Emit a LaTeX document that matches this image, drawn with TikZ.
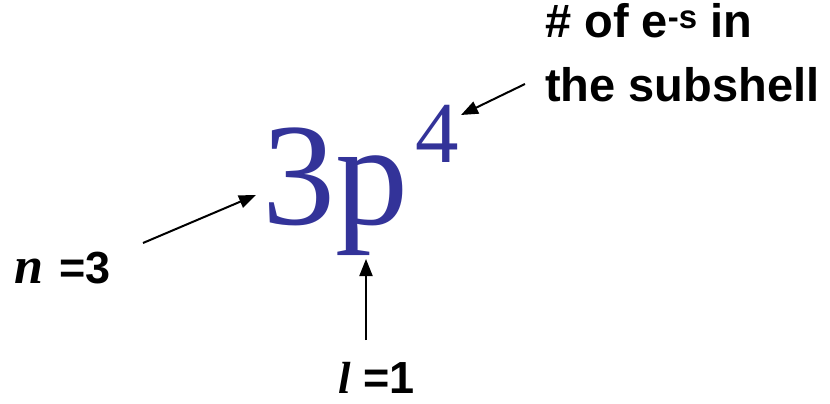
\documentclass[tikz,border=0pt]{standalone}
\usepackage{fontspec}
\setmainfont{Liberation Serif}
\newfontfamily\arialf{Liberation Sans}
\usetikzlibrary{arrows.meta}
\definecolor{symblue}{RGB}{51,51,153}
\begin{document}
\begin{tikzpicture}[x=1pt,y=-1pt,
  lbl/.style={inner sep=0pt,anchor=base west,font=\arialf\bfseries\fontsize{47}{54}\selectfont},
  qn/.style={inner sep=0pt,anchor=base west,font=\arialf\bfseries\fontsize{45}{50}\selectfont},
  arr/.style={line width=2pt,-{Triangle[length=17pt,width=13pt]}}]
\useasboundingbox (0,0) rectangle (830,404);
\node[inner sep=0pt,anchor=base west,text=symblue,font=\fontsize{146}{150}\selectfont] (sym) at (262,224) {3p};
\node[inner sep=0pt,anchor=base west,text=symblue,font=\fontsize{87}{90}\selectfont] (exp) at (415,162) {4};
\node[lbl] (l1) at (545,38) {\# of e\textsuperscript{-s} in};
\node[lbl] (l2) at (545,102) {the subshell};
\node[qn] (nq) at (14,283) {{\rmfamily\bfseries\itshape\fontsize{52}{52}\selectfont n}\hspace{4pt} =3};
\node[qn] (lq) at (338,393) {{\rmfamily\bfseries\itshape l} =1};
\coordinate (ntail) at (143,243);
\coordinate (nhead) at (256,195);
\coordinate (ltail) at (366,340);
\coordinate (lhead) at (366,259);
\coordinate (etail) at (525,84);
\coordinate (ehead) at (461,115);
\draw[arr] (ntail) -- (nhead);
\draw[arr] (ltail) -- (lhead);
\draw[arr] (etail) -- (ehead);
\end{tikzpicture}
\end{document}
